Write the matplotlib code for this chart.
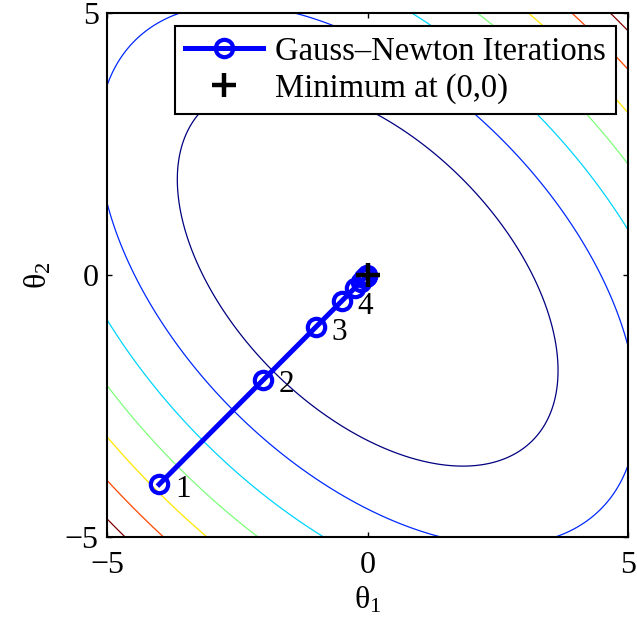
import numpy as np
import matplotlib
matplotlib.use("Agg")
import matplotlib.pyplot as plt

plt.rcParams['font.family'] = ['Liberation Serif', 'DejaVu Serif']
plt.rcParams['mathtext.fontset'] = 'custom'
plt.rcParams['mathtext.rm'] = 'Liberation Serif'
plt.rcParams['mathtext.it'] = 'Liberation Serif:italic'

# ---------- data ----------
# cost surface  J = a*t1^2 + b*t1*t2 + c*t2^2
cost_a = 1.0
cost_b = 1.0
cost_c = 1.0
contour_levels = [10, 20, 30, 40, 50, 60, 70]

# Gauss-Newton iterates (theta1, theta2)
gn_theta1 = [-4, -2, -1, -0.5, -0.25, -0.125, -0.0625, -0.03125, -0.015625, -0.0078125]
gn_theta2 = [-4, -2, -1, -0.5, -0.25, -0.125, -0.0625, -0.03125, -0.015625, -0.0078125]
iter_labels = ['1', '2', '3', '4']

min_theta1 = [0]
min_theta2 = [0]

# ---------- figure ----------
fig = plt.figure(figsize=(6.37, 6.28), dpi=100)
ax = fig.add_axes([0.168, 0.1454, 0.8184, 0.8334])

t = np.linspace(-5, 5, 201)
T1, T2 = np.meshgrid(t, t)
J = cost_a * T1**2 + cost_b * T1 * T2 + cost_c * T2**2

cols = plt.cm.jet(np.linspace(0, 1, len(contour_levels)))
ax.contour(T1, T2, J, levels=contour_levels, colors=cols, linewidths=0.9)

ax.plot(gn_theta1, gn_theta2, '-o', color='#0000ff', lw=3.6, ms=12.5, mew=3,
        mfc='none', mec='#0000ff', label='Gauss\u2013Newton Iterations', zorder=3)
ax.plot(min_theta1, min_theta2, '+', color='k', ms=17, mew=3.2,
        label='Minimum at (0,0)', zorder=4)

for i, lab in enumerate(iter_labels):
    ax.text(gn_theta1[i] + 0.3, gn_theta2[i] - 0.1, lab, fontsize=22.5,
            ha='left', va='center', zorder=5)

ax.set_xlim(-5, 5)
ax.set_ylim(-5, 5)
ax.set_xticks([-5, 0, 5])
ax.set_yticks([-5, 0, 5])
ax.tick_params(direction='in', length=3.6, width=1, labelsize=23,
               top=True, right=True)
ax.tick_params(axis='x', pad=10)
ax.tick_params(axis='y', pad=6)
for sp in ax.spines.values():
    sp.set_linewidth(1.5)

ax.set_xlabel(r'$\mathregular{\theta_1}$', fontsize=23, labelpad=4)
ax.set_ylabel(r'$\mathregular{\theta_2}$', fontsize=23, labelpad=8)

leg = ax.legend(loc='upper right', fontsize=23.5, frameon=True, fancybox=False,
                borderpad=0.32, labelspacing=0.2, handlelength=2.4,
                handletextpad=0.35, borderaxespad=0.38, framealpha=1)
leg.get_frame().set_edgecolor('k')
leg.get_frame().set_linewidth(1.5)

fig.savefig('out.png', dpi=100)
